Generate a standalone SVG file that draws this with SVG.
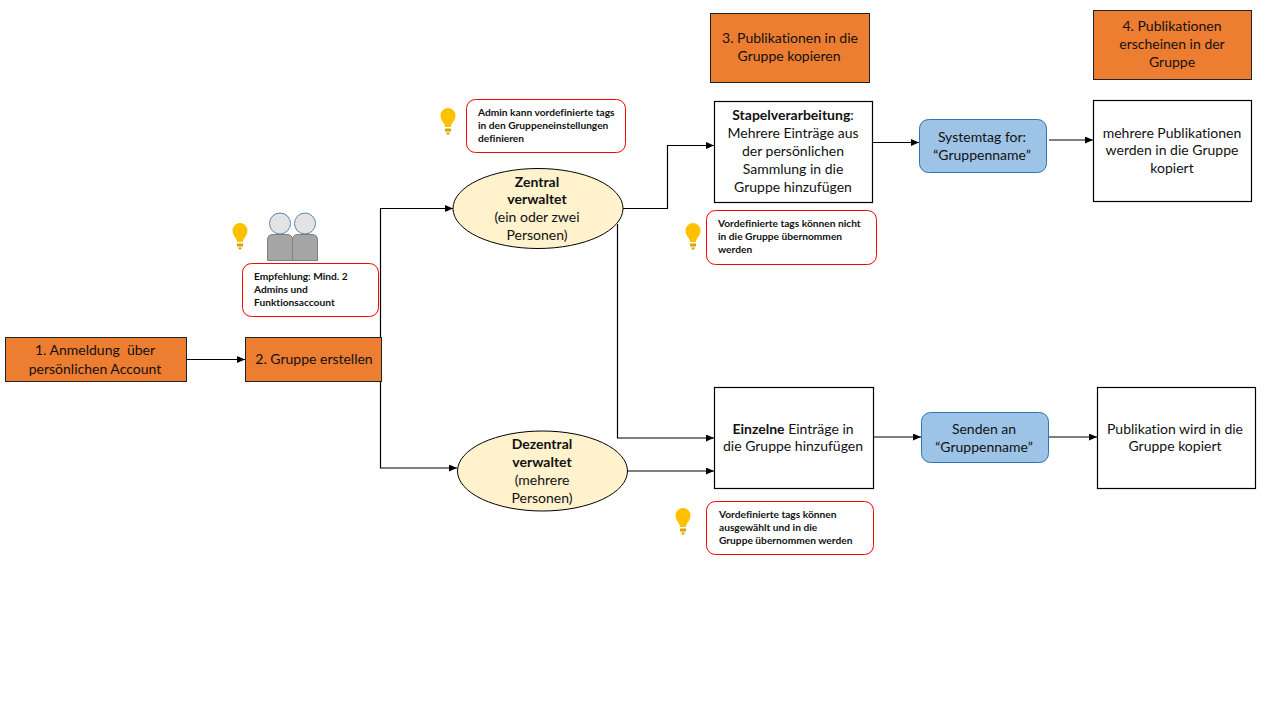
<svg xmlns="http://www.w3.org/2000/svg" xmlns:xlink="http://www.w3.org/1999/xlink" width="1280" height="720" viewBox="0 0 1280 720">
<style>
text{font-family:Lato,Carlito,"Liberation Sans",sans-serif;fill:#111;text-anchor:middle;font-variant-ligatures:none}
.m{font-size:14px}
.s{font-size:10.2px;font-weight:700;text-anchor:start}
.b{font-weight:700}
.o{fill:#ed7d31;stroke:#222;stroke-width:1}
.w{fill:#fff;stroke:#000;stroke-width:1.2}
.n{fill:#fff;stroke:#f00;stroke-width:1}
.e{fill:#fff2cc;stroke:#000;stroke-width:1}
.bl{fill:#9dc3e6;stroke:#2e75b6;stroke-width:1}
.c{fill:none;stroke:#000;stroke-width:1.2;marker-end:url(#a)}
.h{fill:#e3e3e3;stroke:#5b84b1;stroke-width:1}
.p{fill:#a5a5a5;stroke:#7f7f7f;stroke-width:1}
</style>
<defs>
<marker id="a" markerWidth="9" markerHeight="8" refX="8" refY="3.5" orient="auto" markerUnits="userSpaceOnUse"><path d="M0 0L8 3.500L0 7z" fill="#000"/></marker>
<g id="bulb"><path d="M-3 13C-3 9-7.500 7-7.500 1.500A7.500 7.500 0 0 1 7.500 1.500C7.500 7 3 9 3 13Z" fill="#ffc000"/><path d="M-3 14.500H3V17.500H-3ZM-2 18.500H2L1 20.500H-1Z" fill="#d9a300"/></g>
</defs>
<rect width="1280" height="720" fill="#fff"/>
<g id="connectors">
<path class="c" d="M187 359.500H245"/>
<path class="c" d="M380.500 338V208.500H453"/>
<path class="c" d="M380.500 380V468H457"/>
<path class="c" d="M623 208.500H667.500V145.500H714"/>
<path class="c" d="M617.500 224V438H714"/>
<path class="c" d="M628 471H714"/>
<path class="c" d="M873 142.500H919"/>
<path class="c" d="M1049 140H1093"/>
<path class="c" d="M874 437H921"/>
<path class="c" d="M1049 437H1097"/>
</g>
<g id="n1"><rect class="o" x="5.500" y="337.500" width="181" height="44"/><text class="m" x="95" y="355" xml:space="preserve">1. Anmeldung  über</text><text class="m" x="95" y="374">persönlichen Account</text></g>
<g id="n2"><rect class="o" x="245.500" y="337.500" width="136" height="44"/><text class="m" x="314" y="364">2. Gruppe erstellen</text></g>
<g id="n3"><rect class="o" x="710.500" y="13.500" width="159" height="69"/><text class="m" x="790" y="43">3. Publikationen in die</text><text class="m" x="789" y="61">Gruppe kopieren</text></g>
<g id="n4"><rect class="o" x="1093.500" y="10.500" width="158" height="69"/><text class="m" x="1172" y="31">4. Publikationen</text><text class="m" x="1172" y="49">erscheinen in der</text><text class="m" x="1172" y="67">Gruppe</text></g>
<g id="zentral"><ellipse class="e" cx="538" cy="208.500" rx="85" ry="40"/><text class="m b" x="537" y="187">Zentral</text><text class="m b" x="537" y="204">verwaltet</text><text class="m" x="537" y="222">(ein oder zwei</text><text class="m" x="537" y="240">Personen)</text></g>
<g id="dezentral"><ellipse class="e" cx="542.500" cy="471" rx="85" ry="40"/><text class="m b" x="542" y="449">Dezentral</text><text class="m b" x="542" y="467">verwaltet</text><text class="m" x="542" y="485">(mehrere</text><text class="m" x="542" y="503">Personen)</text></g>
<g id="stapel"><rect class="w" x="714.500" y="101.500" width="158" height="101"/><text class="m" x="793" y="120"><tspan class="b">Stapelverarbeitung</tspan>:</text><text class="m" x="793" y="138">Mehrere Einträge aus</text><text class="m" x="793" y="156">der persönlichen</text><text class="m" x="793" y="174">Sammlung in die</text><text class="m" x="793" y="192">Gruppe hinzufügen</text></g>
<g id="einzeln"><rect class="w" x="714.500" y="387.500" width="159" height="101"/><text class="m" x="793" y="434"><tspan class="b">Einzelne</tspan> Einträge in</text><text class="m" x="793" y="451">die Gruppe hinzufügen</text></g>
<g id="systemtag"><rect class="bl" x="919.500" y="119.500" width="127" height="53" rx="9"/><text class="m" x="982" y="142">Systemtag for:</text><text class="m" x="982" y="160">“Gruppenname”</text></g>
<g id="senden"><rect class="bl" x="921.500" y="412.500" width="127" height="50" rx="9"/><text class="m" x="984" y="434">Senden an</text><text class="m" x="984" y="452">“Gruppenname”</text></g>
<g id="result1"><rect class="w" x="1093.500" y="100.500" width="158" height="101"/><text class="m" x="1172" y="138">mehrere Publikationen</text><text class="m" x="1172" y="155">werden in die Gruppe</text><text class="m" x="1172" y="173">kopiert</text></g>
<g id="result2"><rect class="w" x="1097.500" y="387.500" width="158" height="101"/><text class="m" x="1175" y="434">Publikation wird in die</text><text class="m" x="1175" y="451">Gruppe kopiert</text></g>
<g id="note-admin"><use href="#bulb" x="448" y="114"/><rect class="n" x="466.500" y="99.500" width="159" height="53" rx="9"/><text class="s" x="478" y="116">Admin kann vordefinierte tags</text><text class="s" x="478" y="129">in den Gruppeneinstellungen</text><text class="s" x="478" y="142">definieren</text></g>
<g id="note-empfehlung"><use href="#bulb" x="240" y="229"/><rect class="n" x="242.500" y="263.500" width="136" height="53" rx="9"/><text class="s" x="254" y="280">Empfehlung: Mind. 2</text><text class="s" x="254" y="293">Admins und</text><text class="s" x="254" y="306">Funktionsaccount</text></g>
<g id="note-tags1"><use href="#bulb" x="693" y="229"/><rect class="n" x="706.500" y="210.500" width="170" height="54" rx="9"/><text class="s" x="718" y="227">Vordefinierte tags können nicht</text><text class="s" x="718" y="240">in die Gruppe übernommen</text><text class="s" x="718" y="253">werden</text></g>
<g id="note-tags2"><use href="#bulb" x="683" y="514"/><rect class="n" x="706.500" y="501.500" width="167" height="53" rx="9"/><text class="s" x="719" y="518">Vordefinierte tags können</text><text class="s" x="719" y="531">ausgewählt und in die</text><text class="s" x="719" y="544">Gruppe übernommen werden</text></g>
<g id="admins"><path class="p" d="M267.500 260.500V240Q267.500 234.500 273 234.500H287Q292.500 234.500 292.500 240V260.500Z"/><path class="p" d="M292.500 260.500V240Q292.500 234.500 298 234.500H312Q317.500 234.500 317.500 240V260.500Z"/><circle class="h" cx="280" cy="223.500" r="10.500"/><circle class="h" cx="305" cy="223.500" r="10.500"/></g>
</svg>
